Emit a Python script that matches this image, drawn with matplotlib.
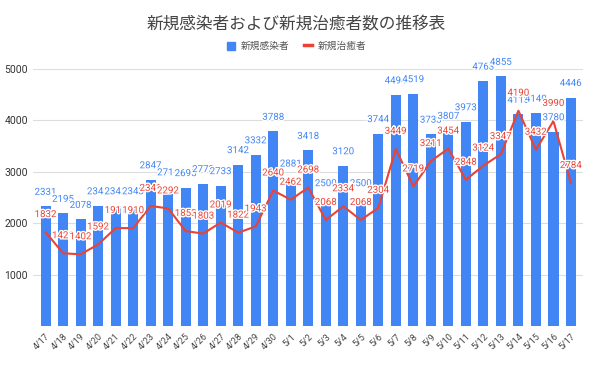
import matplotlib
matplotlib.use("Agg")
import matplotlib.pyplot as plt
import matplotlib.patheffects as pe
from matplotlib.patches import Patch
from matplotlib.lines import Line2D

plt.rcParams['font.family'] = ['Roboto', 'Noto Sans CJK JP', 'DejaVu Sans']

dates = ["4/17", "4/18", "4/19", "4/20", "4/21", "4/22", "4/23", "4/24", "4/25", "4/26",
         "4/27", "4/28", "4/29", "4/30", "5/1", "5/2", "5/3", "5/4", "5/5", "5/6",
         "5/7", "5/8", "5/9", "5/10", "5/11", "5/12", "5/13", "5/14", "5/15", "5/16", "5/17"]
new_cases = [2331, 2195, 2078, 2342, 2342, 2343, 2847, 2711, 2695, 2773,
             2733, 3142, 3332, 3788, 2881, 3418, 2500, 3120, 2500, 3744,
             4494, 4519, 3733, 3807, 3973, 4763, 4855, 4118, 4140, 3780, 4446]
recovered = [1832, 1421, 1402, 1592, 1911, 1910, 2341, 2292, 1853, 1803,
             2019, 1822, 1943, 2640, 2462, 2698, 2068, 2334, 2068, 2304,
             3449, 2719, 3211, 3454, 2848, 3124, 3347, 4190, 3432, 3990, 2784]

blue = "#4285F4"
red = "#EA4335"

fig = plt.figure(figsize=(6, 3.67), dpi=100)
ax = fig.add_axes([0.055, 0.1104, 0.917, 0.7016])

x = list(range(len(dates)))
ax.bar(x, new_cases, width=0.58, color=blue, zorder=2)
ax.plot(x, recovered, color=red, lw=1.5, zorder=3)

halo = [pe.withStroke(linewidth=2, foreground="white")]
for i, v in enumerate(new_cases):
    ax.annotate(str(v), (i, v), xytext=(0, 10.5), textcoords="offset points",
                ha="center", va="center", fontsize=7, color=blue,
                path_effects=halo, zorder=4, annotation_clip=False)
for i, v in enumerate(recovered):
    ax.annotate(str(v), (i, v), xytext=(0, 13), textcoords="offset points",
                ha="center", va="center", fontsize=7, color=red,
                path_effects=halo, zorder=5, annotation_clip=False)

ax.set_xlim(-0.72, len(dates) - 0.3)
ax.set_ylim(0, 5000)
ax.set_yticks([1000, 2000, 3000, 4000, 5000])
ax.set_xticks(x)
ax.set_xticklabels(dates, rotation=45, ha="right", rotation_mode="anchor", fontsize=6.5, color="#444444")
ax.tick_params(axis="y", labelsize=7.5, colors="#333333", length=0)
ax.tick_params(axis="x", length=0, pad=4)
ax.grid(axis="y", color="#dddddd", lw=0.8, zorder=0)
for s in ax.spines.values():
    s.set_visible(False)

fig.text(296 / 600, 1 - 24 / 367, "新規感染者および新規治癒者数の推移表", ha="center", va="center",
         fontsize=12, color="#444444", family=['Noto Sans CJK JP'])
handles = [Patch(color=blue), Line2D([0], [0], color=red, lw=2.5)]
leg = fig.legend(handles, ["新規感染者", "新規治癒者"], loc="center", bbox_to_anchor=(0.495, 1 - 46 / 367),
                 ncol=2, frameon=False, handlelength=0.8, handleheight=0.9,
                 columnspacing=1.5, handletextpad=0.6, prop={'family': 'Noto Sans CJK JP', 'size': 7})
for t in leg.get_texts():
    t.set_color("#555555")

fig.savefig("out.png", dpi=100)
